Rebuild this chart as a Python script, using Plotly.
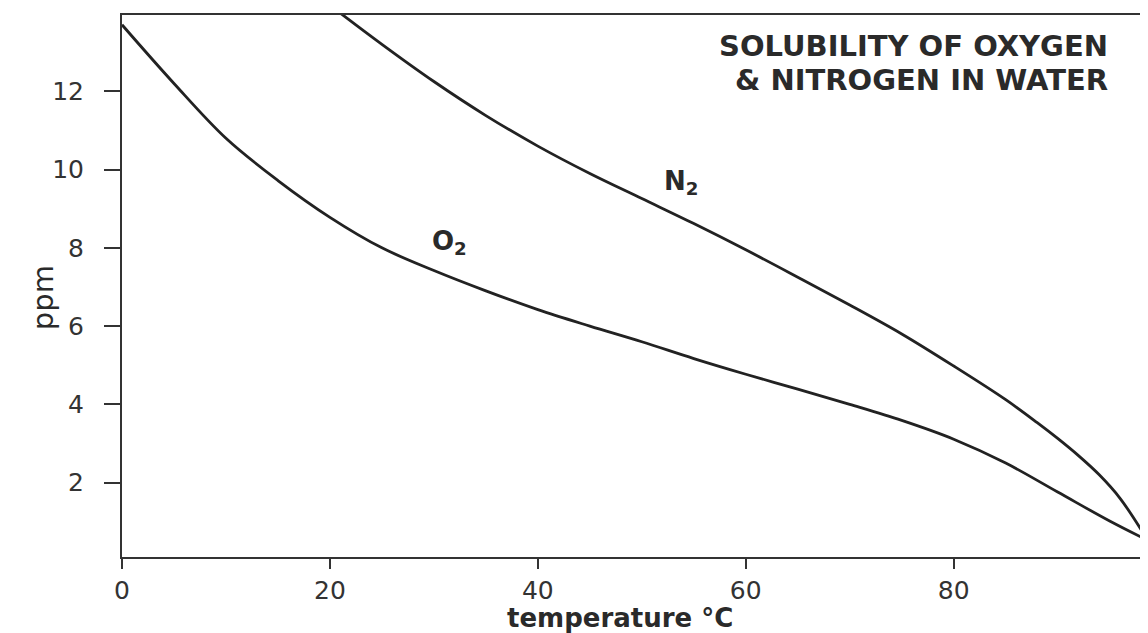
import plotly.graph_objects as go

# Data
temp_o2 = [0, 5, 10, 15, 20, 25, 30, 35, 40, 45, 50, 55, 60, 65, 70, 75, 80, 85, 90, 95, 98.4]
ppm_o2 = [13.7, 12.2, 10.8, 9.72, 8.78, 8.0, 7.42, 6.9, 6.42, 6.0, 5.6, 5.17, 4.77, 4.39, 4.0, 3.59, 3.11, 2.5, 1.76, 1.02, 0.56]

temp_n2 = [20, 25, 30, 35, 40, 45, 50, 55, 60, 65, 70, 75, 80, 85, 88, 90, 92, 94, 96, 98.4]
ppm_n2 = [14.2, 13.2, 12.25, 11.38, 10.6, 9.9, 9.26, 8.62, 7.95, 7.25, 6.54, 5.8, 4.98, 4.12, 3.54, 3.13, 2.69, 2.2, 1.6, 0.64]

x_ticks = [0, 20, 40, 60, 80]
y_ticks = [2, 4, 6, 8, 10, 12]

line_col = "#222222"
axis_col = "#333333"

fig = go.Figure()
fig.add_trace(go.Scatter(x=temp_o2, y=ppm_o2, mode="lines", name="O2",
                         line=dict(color=line_col, width=2.8, shape="spline", smoothing=1.0)))
fig.add_trace(go.Scatter(x=temp_n2, y=ppm_n2, mode="lines", name="N2",
                         line=dict(color=line_col, width=2.8, shape="spline", smoothing=1.0)))

tick_font = dict(family="DejaVu Sans", size=25, color="#333333")

fig.update_xaxes(range=[0, 98.4], tickvals=x_ticks, ticktext=[str(v) for v in x_ticks],
                 ticks="outside", ticklen=10, tickwidth=2, tickcolor=axis_col,
                 showline=True, linewidth=2, linecolor=axis_col, mirror=True,
                 showgrid=False, zeroline=False, tickfont=tick_font, ticklabelstandoff=0,
                 automargin=False)
fig.update_yaxes(range=[0.1, 13.95], tickvals=y_ticks, ticktext=[str(v) for v in y_ticks],
                 ticks="outside", ticklen=16, tickwidth=2, tickcolor=axis_col,
                 showline=True, linewidth=2, linecolor=axis_col, mirror=True,
                 showgrid=False, zeroline=False, tickfont=tick_font, ticklabelstandoff=15,
                 automargin=False)

title_font = dict(family="DejaVu Sans", size=29, color="#2a2a2a", weight="bold")
annotations = [
    dict(text="SOLUBILITY OF OXYGEN", xref="paper", yref="paper", x=0.966, y=0.943,
         xanchor="right", yanchor="middle", showarrow=False, font=title_font),
    dict(text="&amp; NITROGEN IN WATER", xref="paper", yref="paper", x=0.966, y=0.88,
         xanchor="right", yanchor="middle", showarrow=False, font=title_font),
    dict(text="O<sub>2</sub>", x=31.5, y=8.14, xref="x", yref="y", showarrow=False,
         xanchor="center", yanchor="middle",
         font=dict(family="DejaVu Sans", size=26, color="#2a2a2a", weight="bold")),
    dict(text="N<sub>2</sub>", x=53.8, y=9.67, xref="x", yref="y", showarrow=False,
         xanchor="center", yanchor="middle",
         font=dict(family="DejaVu Sans", size=26, color="#2a2a2a", weight="bold")),
    dict(text="temperature °C", xref="paper", yref="paper", x=0.487, y=-0.113,
         xanchor="center", yanchor="middle", showarrow=False,
         font=dict(family="DejaVu Sans", size=26, color="#2a2a2a", weight="bold")),
    dict(text="ppm", xref="paper", yref="paper", x=-0.077, y=0.478, textangle=-90,
         xanchor="center", yanchor="middle", showarrow=False,
         font=dict(family="DejaVu Sans", size=29, color="#2a2a2a")),
]

# The page body keeps an 8 px default margin, so the figure is sized to the
# remaining window area and its margins are reduced by the same amount.
fig.update_layout(width=1140, height=625, showlegend=False,
                  margin=dict(l=114, r=3, t=7, b=76),
                  paper_bgcolor="white", plot_bgcolor="white",
                  annotations=annotations)

fig.write_html("out.html")
